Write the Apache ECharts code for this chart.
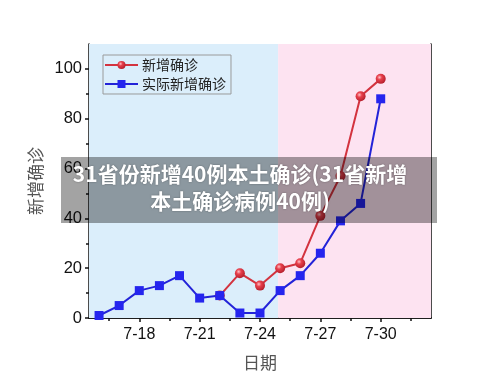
<!DOCTYPE html>
<html><head><meta charset="utf-8">
<script src="https://cdn.jsdelivr.net/npm/echarts@6/dist/echarts.min.js"></script>
<style>html,body{margin:0;padding:0;background:#fff}#c{width:500px;height:382px}</style>
</head><body><div id="c"></div>
<script>
// Data (day of July)
const days = [16,17,18,19,20,21,22,23,24,25,26,27,28,29,30];
const actualNew = [1,5,11,13,17,8,9,2,2,11,17,26,39,46,88];
const redDays = [22,23,24,25,26,27,28,29,30];
const newConfirmed = [9,18,13,20,22,41,57,89,96];
const xTicks = [18,21,24,27,30];
const xMinor = [16.5,19.5,22.5,25.5,28.5,31.5];
const yTicks = [0,20,40,60,80,100];
const yMinor = [10,30,50,70,90];
const seriesNames = ['新增确诊','实际新增确诊'];
const xMin = 15.5, xMax = 32.5, phaseSplit = 24.9, yMax = 110;

const chart = echarts.init(document.getElementById('c'));
const lblFont = 'Liberation Sans, Arial, sans-serif';
const cjk = 'Noto Sans CJK SC, sans-serif';
const redGrad = {type:'radial',x:0.38,y:0.35,r:0.7,colorStops:[{offset:0,color:'#ffc0c6'},{offset:0.35,color:'#e8404c'},{offset:1,color:'#b01c2a'}]};

chart.setOption({
  animation:false,
  grid:{left:89,right:69,top:44,bottom:64},
  legend:{
    orient:'vertical', left:103, top:55, itemWidth:33, itemHeight:10, itemGap:5,
    padding:[3,5,3,1], borderColor:'#9a9a9a', borderWidth:1, backgroundColor:'#dbeefb',
    textStyle:{fontFamily:cjk,fontSize:14,color:'#222',padding:[0,0,0,-1]},
    data:seriesNames
  },
  xAxis:[
    {type:'value',min:xMin,max:xMax,position:'bottom',
     name:'日期',nameLocation:'middle',nameGap:36,nameTextStyle:{fontFamily:cjk,fontSize:17,color:'#555'},
     axisLine:{lineStyle:{color:'#111',width:1.5}},
     axisTick:{show:true,length:4,customValues:xTicks,lineStyle:{color:'#111',width:1.5}},
     axisLabel:{customValues:xTicks,formatter:v=>'7-'+v,fontFamily:lblFont,fontSize:16,color:'#111',margin:9},
     splitLine:{show:false}},
    {type:'value',min:xMin,max:xMax,position:'bottom',
     axisLine:{show:false},
     axisTick:{show:true,length:3,customValues:xMinor,lineStyle:{color:'#111',width:1.5}},
     axisLabel:{show:false},splitLine:{show:false}},
    {type:'value',min:xMin,max:xMax,position:'top',
     axisLine:{lineStyle:{color:'#111',width:1.5}},axisTick:{show:false},axisLabel:{show:false},splitLine:{show:false}}
  ],
  yAxis:[
    {type:'value',min:0,max:yMax,position:'left',
     name:'新增确诊',nameLocation:'middle',nameGap:38,nameRotate:90,nameTextStyle:{fontFamily:cjk,fontSize:17,color:'#555'},
     axisLine:{show:true,lineStyle:{color:'#111',width:1.5}},
     axisTick:{show:true,length:4,customValues:yTicks,lineStyle:{color:'#111',width:1.5}},
     axisLabel:{customValues:yTicks,fontFamily:lblFont,fontSize:16.5,color:'#111',margin:7},
     splitLine:{show:false}},
    {type:'value',min:0,max:yMax,position:'left',
     axisLine:{show:false},
     axisTick:{show:true,length:3,customValues:yMinor,lineStyle:{color:'#111',width:1.5}},
     axisLabel:{show:false},splitLine:{show:false}},
    {type:'value',min:0,max:yMax,position:'right',
     axisLine:{show:true,lineStyle:{color:'#111',width:1.5}},axisTick:{show:false},axisLabel:{show:false},splitLine:{show:false}}
  ],
  series:[
    {name:seriesNames[0],type:'line',xAxisIndex:0,yAxisIndex:0,
     data:redDays.map((d,i)=>[d,newConfirmed[i]]),
     symbol:'circle',symbolSize:10,
     lineStyle:{color:'#d3333f',width:2},
     itemStyle:{color:redGrad,borderWidth:0},
     markArea:{silent:true,data:[
       [{xAxis:xMin,itemStyle:{color:'#dbeefb'}},{xAxis:phaseSplit}],
       [{xAxis:phaseSplit,itemStyle:{color:'#fde3f1'}},{xAxis:xMax}]
     ]},
     z:2},
    {name:seriesNames[1],type:'line',xAxisIndex:0,yAxisIndex:0,
     data:days.map((d,i)=>[d,actualNew[i]]),
     symbol:'rect',symbolSize:9,
     lineStyle:{color:'#2323d8',width:2},
     itemStyle:{color:'#2525ee',borderWidth:0},
     z:3}
  ],
  graphic:[
    {type:'rect',z:100,shape:{x:61,y:157,width:376,height:66},style:{fill:'rgba(0,0,0,0.36)'}},
    {type:'text',z:101,x:240,y:188,style:{
      text:'31省份新增40例本土确诊(31省新增\n本土确诊病例40例)',
      fill:'#fff',font:'bold 21px "Noto Sans CJK SC", sans-serif',align:'center',verticalAlign:'middle',lineHeight:27,
      textShadowColor:'rgba(0,0,0,0.35)',textShadowBlur:2}}
  ]
});
</script></body></html>
